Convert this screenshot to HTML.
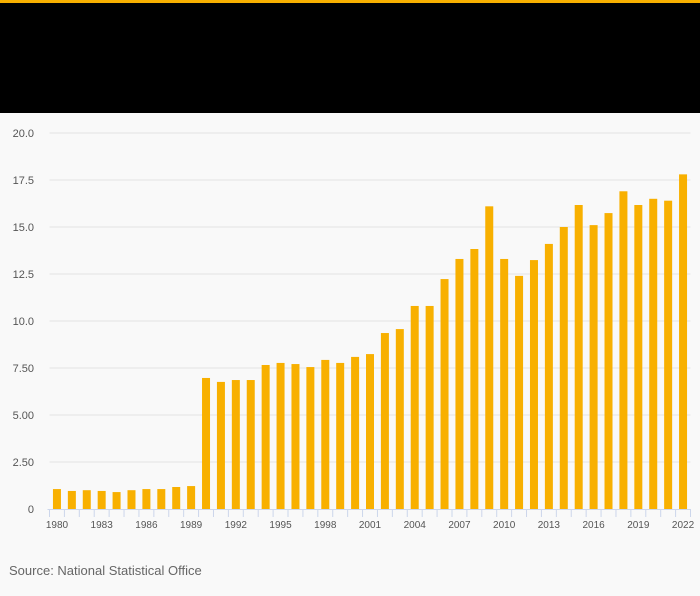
<!DOCTYPE html>
<html><head><meta charset="utf-8"><style>
body{margin:0;width:700px;height:596px;background:#f9f9f9;font-family:"Liberation Sans",sans-serif;overflow:hidden}
#hdr{position:absolute;left:0;top:0;width:700px;height:113px;background:#000;border-top:3px solid #f8b000;box-sizing:border-box}
#src{position:absolute;left:9px;top:563px;font-size:13px;color:#666}
svg{position:absolute;left:0;top:0}
</style></head><body>
<div id="hdr"></div>
<svg id="chart" width="700" height="596"></svg>
<div id="src">Source: National Statistical Office</div>
<script>
const years=[1980,1981,1982,1983,1984,1985,1986,1987,1988,1989,1990,1991,1992,1993,1994,1995,1996,1997,1998,1999,2000,2001,2002,2003,2004,2005,2006,2007,2008,2009,2010,2011,2012,2013,2014,2015,2016,2017,2018,2019,2020,2021,2022];
const values=[1.06,0.96,1.0,0.96,0.9,1.0,1.06,1.06,1.17,1.22,6.97,6.76,6.86,6.86,7.66,7.77,7.71,7.55,7.93,7.77,8.09,8.24,9.36,9.57,10.8,10.8,12.23,13.3,13.83,16.1,13.3,12.4,13.24,14.1,15.0,16.17,15.1,15.74,16.9,16.17,16.5,16.4,17.8];
const yTicks=[0,2.5,5,7.5,10,12.5,15,17.5,20];
const yTickLabels=["0","2.50","5.00","7.50","10.0","12.5","15.0","17.5","20.0"];
const svg=document.getElementById('chart');
const NS='http://www.w3.org/2000/svg';
const x0=49.5,x1=690.5,yb=509,yt=133,ymax=20;
const step=(x1-x0)/years.length;
const y=v=>yb-(v/ymax)*(yb-yt);
const xc=i=>x0+step*(i+0.5);
function mk(t,a){const e=document.createElementNS(NS,t);for(const k in a)e.setAttribute(k,a[k]);svg.appendChild(e);return e;}
yTicks.forEach((t,i)=>{
  if(t>0){const g=mk('line',{x1:x0,x2:x1,y1:y(t),y2:y(t),stroke:'#e4e4e4','stroke-width':1});
  
  }
  const l=mk('text',{x:34,y:y(t)+4,'text-anchor':'end','font-size':11,fill:'#555'});
  l.textContent=yTickLabels[i];
  
  
});
values.forEach((v,i)=>{
  const r=mk('rect',{x:xc(i)-4,y:y(v),width:8,height:yb-y(v),fill:'#f8b000'});
  
  
});
const ax=mk('line',{x1:x0-2,x2:x1,y1:yb+0.5,y2:yb+0.5,stroke:'#ccd6eb'});


for(let i=0;i<=years.length;i++){
  const tk=mk('line',{x1:x0+step*i,x2:x0+step*i,y1:yb,y2:yb+8,stroke:'#ccd6eb'});
  
  
}
years.forEach((yr,i)=>{
  if(i%3===0||i===years.length-1){
    const l=mk('text',{x:xc(i),y:528,'text-anchor':'middle','font-size':10,fill:'#555'});
    l.textContent=yr;
    
    
  }
});
</script>
</body></html>
